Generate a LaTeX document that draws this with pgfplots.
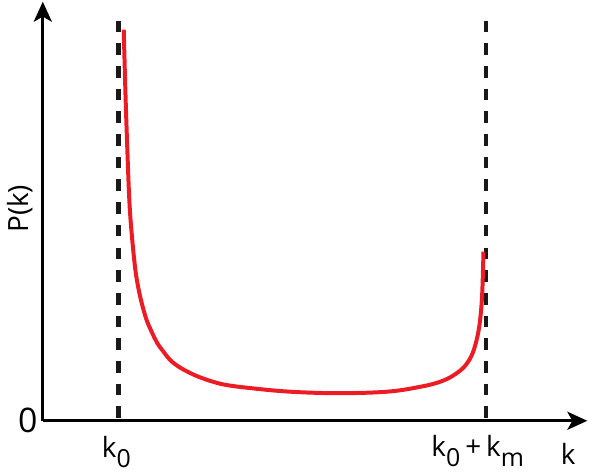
\documentclass[border=0pt]{standalone}
\usepackage{pgfplots}
\pgfplotsset{compat=1.18}
\usetikzlibrary{arrows.meta}
\usepackage{fontspec}
\setmainfont{Open Sans}
\definecolor{curvered}{HTML}{ED1C24}
\newcommand{\sub}[1]{\raisebox{-0.36em}{\fontsize{12.5}{13}\selectfont #1}}

\begin{document}
\begin{tikzpicture}
\begin{axis}[
    scale only axis, width=273.5pt, height=210.5pt,
    xmin=43, xmax=590, ymin=0, ymax=421,
    axis lines=left, clip=false,
    axis line style={line width=1.7pt, -{Stealth[length=10pt, width=9pt, inset=2.5pt]}},
    xtick=\empty, ytick=\empty,
]
% dashed limits k0 and k0+km
\addplot[black!90, line width=2.2pt, dash pattern=on 5.8pt off 5.6pt] coordinates {(119,402) (119,0)};
\addplot[black!90, line width=2.2pt, dash pattern=on 5.8pt off 5.6pt] coordinates {(488,402) (488,0)};
% P(k)
\addplot[curvered, line width=2pt, smooth, tension=0.6] coordinates {
(124.3,393) (126,330) (128,270) (130,220) (132.3,188) (135.7,154) (138.5,136)
(141.7,121) (147,102) (153,88) (158,78) (163,71) (171,61) (180,54) (190,48.5)
(200,44) (213,39.5) (227,36) (250,33) (290,29.3) (340,27.7)
(390,29.3) (423,34.3) (440,38.5) (452,43.5) (463,51) (469,57.5) (474,66)
(478,78) (481,92) (483,108) (484.5,130) (485.7,170)
};
\path (axis cs:0,421) -- (axis cs:589,-54);
\node[font=\fontsize{17}{18}\selectfont] at (axis cs:28,0) {0};
\node[font=\fontsize{14}{15}\selectfont, anchor=base west, inner sep=0pt] at (axis cs:102,-37) {k\sub{0}};
\node[font=\fontsize{14}{15}\selectfont, anchor=base west, inner sep=0pt] at (axis cs:433,-36) {k\sub{0}\hspace{2.5pt}+\hspace{2.5pt}k\sub{m}};
\node[font=\fontsize{14}{15}\selectfont, anchor=base west, inner sep=0pt] at (axis cs:563,-44) {k};
\node[font=\fontsize{14}{15}\selectfont, rotate=90] at (axis cs:20,213) {P(k)};
\end{axis}
\end{tikzpicture}
\end{document}
